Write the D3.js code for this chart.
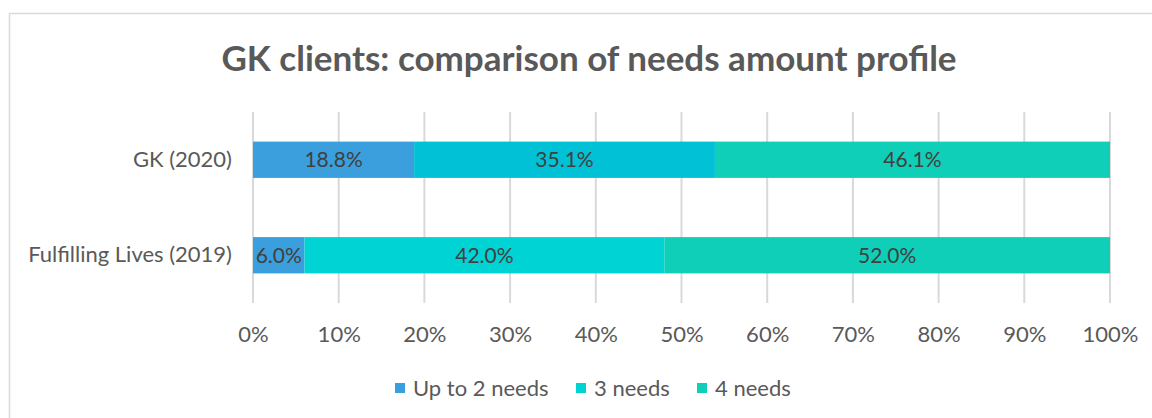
<!DOCTYPE html>
<html>
<head>
<meta charset="utf-8">
<script src="https://cdn.jsdelivr.net/npm/d3@7"></script>
<style>
  body { margin: 0; background: #fff; }
  svg { display: block; font-family: Lato, 'Open Sans', sans-serif; }
</style>
</head>
<body>
<div id="chart"></div>
<script>
const categories = ['GK (2020)', 'Fulfilling Lives (2019)']
const seriesNames = ['Up to 2 needs', '3 needs', '4 needs']
const upTo2 = [18.8, 6.0]
const three = [35.1, 42.0]
const four = [46.1, 52.0]
const xTicks = [0, 10, 20, 30, 40, 50, 60, 70, 80, 90, 100]

const W = 1152
const H = 418
const FONT = "Lato, 'Open Sans', sans-serif"

// legend colours; GK's middle segment is a slightly deeper cyan in the original
const colors = ['#3a9fdc', '#00d3d3', '#0fcfb8']
const rowColors = [['#3a9fdc', '#00c1d5', '#0fcfb8'], ['#3a9fdc', '#00d3d3', '#0fcfb8']]

const svg = d3.select('#chart').append('svg')
  .attr('width', W)
  .attr('height', H)

// chart frame
svg.append('rect')
  .attr('x', 9.5).attr('y', 13.5)
  .attr('width', W).attr('height', H)
  .attr('fill', 'none')
  .attr('stroke', '#d9d9d9')
  .attr('stroke-width', 1.5)

svg.append('text')
  .attr('x', 589).attr('y', 71)
  .attr('text-anchor', 'middle')
  .attr('font-size', '35px')
  .attr('font-weight', 'bold')
  .attr('fill', '#595959')
  .text('GK clients: comparison of needs amount profile')

const g = svg.append('g')
  .attr('transform', 'translate(253,112)')

const x = d3.scaleLinear().domain([0, 100]).range([0, 857])
const y = d3.scaleBand().domain(categories).range([0, 191]).paddingInner(0.62).paddingOuter(0.31)

// gridlines
g.selectAll('line.grid')
  .data(xTicks)
  .join('line')
  .attr('class', 'grid')
  .attr('x1', d => x(d)).attr('x2', d => x(d))
  .attr('y1', 0).attr('y2', 191)
  .attr('stroke', '#d9d9d9')
  .attr('stroke-width', 2)

// x axis labels
const xAxis = g.append('g')
  .attr('transform', 'translate(0,191)')
  .call(d3.axisBottom(x).tickValues(xTicks).tickFormat(d => d + '%').tickSize(0).tickPadding(23))
xAxis.select('.domain').remove()
xAxis.selectAll('text')
  .attr('font-size', '22px')
  .attr('font-family', FONT)
  .attr('fill', '#595959')

// category labels
const yAxis = g.append('g')
  .call(d3.axisLeft(y).tickSize(0).tickPadding(21))
yAxis.select('.domain').remove()
yAxis.selectAll('text')
  .attr('font-size', '22px')
  .attr('font-family', FONT)
  .attr('fill', '#595959')

const rows = categories.map((c, i) => ({ cat: c, values: [upTo2[i], three[i], four[i]] }))
const segs = []
rows.forEach((r, ri) => {
  let acc = 0
  r.values.forEach((v, si) => {
    segs.push({ cat: r.cat, x0: acc, x1: acc + v, v, color: rowColors[ri][si] })
    acc += v
  })
})

g.selectAll('rect.bar')
  .data(segs)
  .join('rect')
  .attr('class', 'bar')
  .attr('x', d => x(d.x0))
  .attr('width', d => x(d.x1) - x(d.x0))
  .attr('y', d => y(d.cat))
  .attr('height', y.bandwidth())
  .attr('fill', d => d.color)

g.selectAll('text.bar-label')
  .data(segs)
  .join('text')
  .attr('class', 'bar-label')
  .attr('x', d => x((d.x0 + d.x1) / 2))
  .attr('y', d => y(d.cat) + y.bandwidth() / 2)
  .attr('dy', '0.35em')
  .attr('text-anchor', 'middle')
  .attr('font-size', '21px')
  .attr('fill', '#404040')
  .text(d => d.v.toFixed(1) + '%')

// legend
const legendX = [395, 576, 697]
const legend = svg.append('g').selectAll('g')
  .data(seriesNames)
  .join('g')
  .attr('transform', (d, i) => `translate(${legendX[i]},383)`)
legend.append('rect')
  .attr('width', 10).attr('height', 10)
  .attr('fill', (d, i) => colors[i])
legend.append('text')
  .attr('x', 18).attr('y', 5)
  .attr('dy', '0.35em')
  .attr('font-size', '22px')
  .attr('fill', '#595959')
  .text(d => d)
</script>
</body>
</html>
